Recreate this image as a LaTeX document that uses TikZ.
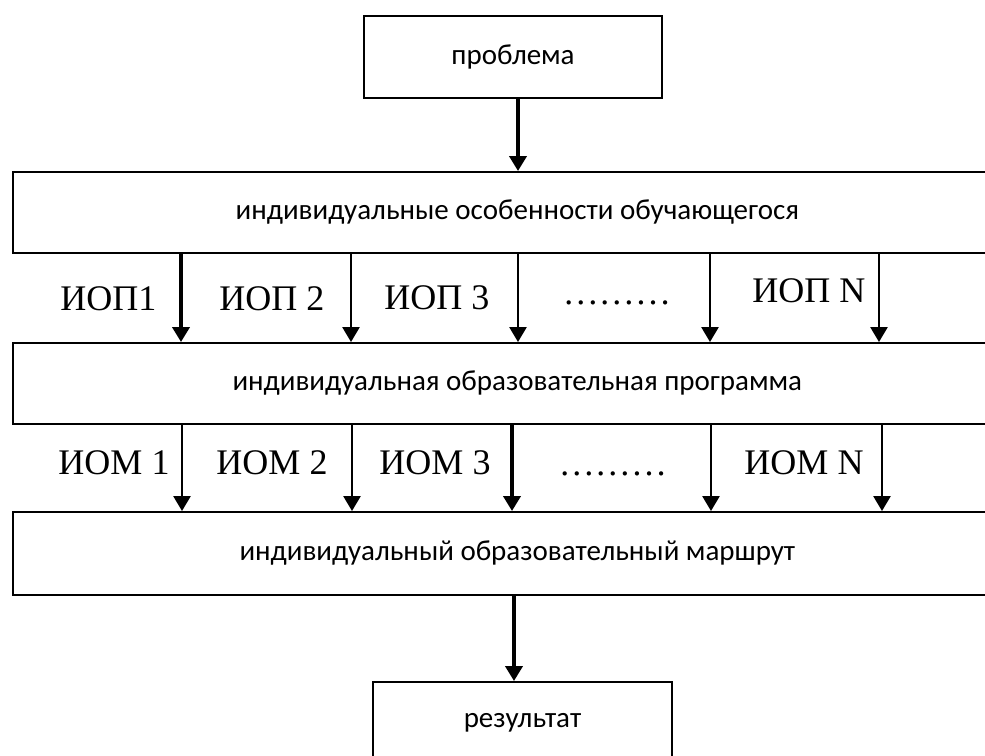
\documentclass[tikz,border=0pt]{standalone}
\usepackage{fontspec}
\setmainfont{Carlito}
\newfontfamily\serifrm{Liberation Serif}
\usepackage{tikz}
\usetikzlibrary{arrows.meta}
\tikzstyle{blok} = [rectangle, draw, line width=1.1pt, fill=white, inner sep=0pt, font=\fontsize{16.5}{20}\selectfont]
\tikzstyle{nadp} = [font=\serifrm\fontsize{20.5}{24}\selectfont, anchor=base, inner sep=0pt]
\tikzstyle{tonk} = [line width=1.5pt]
\tikzstyle{tolst} = [line width=2.8pt]

\begin{document}
\begin{tikzpicture}[x=0.02cm,y=-0.02cm,>={Triangle[length=0.3cm,width=0.34cm]}]
  \useasboundingbox (0,0) rectangle (985,756);
  \clip (0,0) rectangle (985,756);

  % bloki
  \node[blok, minimum width=5.96cm, minimum height=1.64cm] (problema) at (513,57) {проблема};
  \node[blok, minimum width=20.19cm, minimum height=1.62cm] (osob) at (517.3,212.5) {индивидуальные особенности обучающегося};
  \node[blok, minimum width=20.19cm, minimum height=1.62cm] (prog) at (517.3,383.5) {индивидуальная образовательная программа};
  \node[blok, minimum width=20.19cm, minimum height=1.66cm] (marsh) at (517.3,553.5) {индивидуальный образовательный маршрут};
  \node[blok, minimum width=5.98cm, minimum height=1.64cm] (rez) at (522.5,723) {результат};

  % ИОП
  \node[nadp] (iop1) at (108.5,311) {ИОП1};
  \node[nadp] (iop2) at (272,311) {ИОП 2};
  \node[nadp] (iop3) at (437,310) {ИОП 3};
  \node[nadp] (tochki1) at (617,305) {………};
  \node[nadp] (iopN) at (809,303) {ИОП N};

  % ИОМ
  \node[nadp] (iom1) at (114,475) {ИОМ 1};
  \node[nadp] (iom2) at (272,475) {ИОМ 2};
  \node[nadp] (iom3) at (435,475) {ИОМ 3};
  \node[nadp] (tochki2) at (613,476) {………};
  \node[nadp] (iomN) at (804,475) {ИОМ N};

  \path[->] (problema.south -| 518,0) edge[tolst] (osob.north -| 518,0);

  \path[->] (osob.south -| 181,0) edge[tolst] (prog.north -| 181,0);
  \path[->] (osob.south -| 351,0) edge[tonk] (prog.north -| 351,0);
  \path[->] (osob.south -| 518,0) edge[tonk] (prog.north -| 518,0);
  \path[->] (osob.south -| 710,0) edge[tonk] (prog.north -| 710,0);
  \path[->] (osob.south -| 879,0) edge[tonk] (prog.north -| 879,0);

  \path[->] (prog.south -| 182,0) edge[tonk] (marsh.north -| 182,0);
  \path[->] (prog.south -| 352,0) edge[tonk] (marsh.north -| 352,0);
  \path[->] (prog.south -| 512,0) edge[tolst] (marsh.north -| 512,0);
  \path[->] (prog.south -| 711,0) edge[tonk] (marsh.north -| 711,0);
  \path[->] (prog.south -| 882,0) edge[tonk] (marsh.north -| 882,0);

  \path[->] (marsh.south -| 514,0) edge[tolst] (rez.north -| 514,0);
\end{tikzpicture}
\end{document}
